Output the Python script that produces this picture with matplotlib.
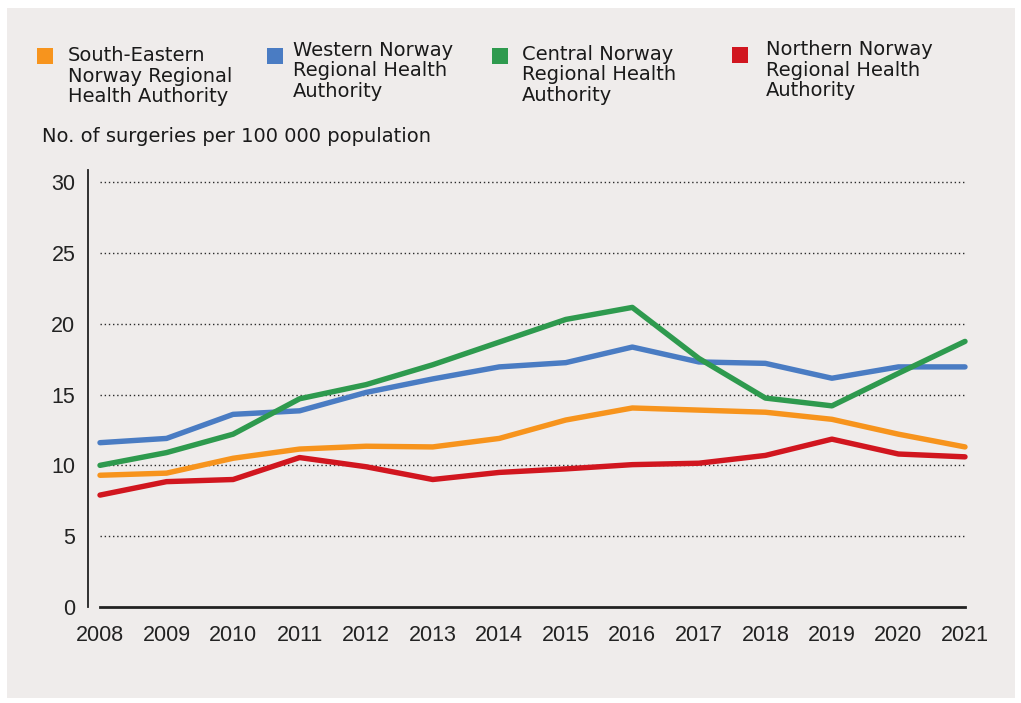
import numpy as np
import matplotlib
matplotlib.use("Agg")
import matplotlib.pyplot as plt
from matplotlib.patches import Rectangle

years = list(range(2008, 2022))

# No. of surgeries per 100 000 population
south_eastern = [9.3, 9.45, 10.5, 11.15, 11.35, 11.3, 11.9, 13.2, 14.05, 13.9, 13.75, 13.25, 12.2, 11.3]
western = [11.6, 11.9, 13.6, 13.85, 15.15, 16.1, 16.95, 17.25, 18.35, 17.3, 17.2, 16.15, 16.95, 16.95]
central = [10.0, 10.9, 12.2, 14.7, 15.7, 17.1, 18.7, 20.3, 21.15, 17.55, 14.75, 14.2, 16.5, 18.75]
northern = [7.9, 8.85, 9.0, 10.55, 9.9, 9.0, 9.5, 9.75, 10.05, 10.15, 10.7, 11.85, 10.8, 10.6]

series = [south_eastern, western, central, northern]
labels = ["South-Eastern\nNorway Regional\nHealth Authority",
          "Western Norway\nRegional Health\nAuthority",
          "Central Norway\nRegional Health\nAuthority",
          "Northern Norway\nRegional Health\nAuthority"]
colors = ["#F7941D", "#4A7CC3", "#2E9A4E", "#D1161F"]
yticks = [0, 5, 10, 15, 20, 25, 30]
y_title = "No. of surgeries per 100 000 population"

W, H = 1021, 703
bg = "#EFECEB"

def fx(x):
    return x / W

def fy(y):
    return 1 - y / H

fig = plt.figure(figsize=(W / 100, H / 100), dpi=100)
fig.patch.set_facecolor("white")
# grey panel behind everything
fig.patches.append(Rectangle((fx(7), fy(698)), fx(1008), (698 - 8) / H,
                             transform=fig.transFigure, facecolor=bg, edgecolor="none", zorder=-10))

ax = fig.add_axes([fx(100), fy(607), fx(865), (607 - 170) / H])
ax.set_facecolor("none")
ax.set_zorder(2)

for vals, c in zip(series, colors):
    ax.plot(years, vals, color=c, lw=3.9, solid_capstyle="round", solid_joinstyle="round",
            clip_on=False, zorder=3)

ax.set_xlim(2008, 2021)
ax.set_ylim(0, 30.85)
ax.set_xticks(years)
ax.set_xticklabels([str(y) for y in years])
ax.set_yticks(yticks)

for s in ["top", "right"]:
    ax.spines[s].set_visible(False)
ax.spines["left"].set_position(("outward", 8.7))
ax.spines["left"].set_color("#222222")
ax.spines["left"].set_linewidth(1.3)
ax.spines["bottom"].set_color("#222222")
ax.spines["bottom"].set_linewidth(2)
ax.spines["bottom"].set_zorder(4)

for t in yticks[1:]:
    ax.axhline(t, color="#2a2a2a", lw=1.0, ls=(0, (1, 2.0)), zorder=1)

tick_font = ["Liberation Sans", "DejaVu Sans"]
ax.tick_params(axis="both", length=0, colors="#222222", labelsize=15.5)
ax.tick_params(axis="y", pad=9)
ax.tick_params(axis="x", pad=13)
for lab in ax.get_xticklabels() + ax.get_yticklabels():
    lab.set_family(tick_font)

# legend, drawn by hand to keep the uneven spacing
txt_font = ["DejaVu Sans"]
sq = [(37, 48), (267, 48), (492, 48), (732, 47)]
tx = [(68, 46), (293, 41), (522, 45), (766, 40)]
for (sx, sy), (px, py), lab, c in zip(sq, tx, labels, colors):
    fig.patches.append(Rectangle((fx(sx), fy(sy + 16)), fx(16), 16 / H,
                                 transform=fig.transFigure, facecolor=c, edgecolor="none"))
    fig.text(fx(px), fy(py), lab, ha="left", va="top", fontsize=14, family=txt_font,
             color="#1a1a1a", linespacing=1.1)

fig.text(fx(42), fy(127), y_title, ha="left", va="top", fontsize=14, family=txt_font,
         color="#1a1a1a")

fig.savefig("out.png", dpi=100, facecolor="white")
